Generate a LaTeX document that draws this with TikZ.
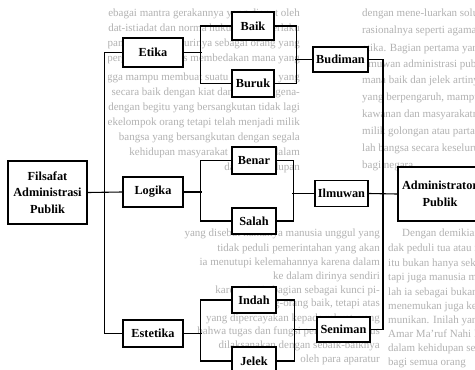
\documentclass[tikz,border=0pt]{standalone}
\usepackage{fontspec}
\setmainfont{Liberation Serif}
\begin{document}
\begin{tikzpicture}[x=1pt,y=-1pt,
  box/.style={draw, fill=white, line width=1.2pt, inner sep=0pt,
    font=\bfseries\fontsize{12.3}{16.5}\selectfont, align=center},
  link/.style={line width=1.1pt},
  bgtext/.style={text=black!30, font=\fontsize{11}{13}\selectfont, inner sep=0pt}]
\useasboundingbox (0,0) rectangle (475,370);
\fill[white] (0,0) rectangle (475,370);

% page text lying under the chart
\begin{scope}
\clip (108,0) rectangle (300,178);
\foreach \yy/\tt [count=\i] in {
  16.5/{sebagai mantra gerakannya yang dianut oleh},
  31.5/{dianut dalam adat-istiadat dan norma hukum yang berlaku},
  46.5/{kehidupan menuntut nalurinya sebagai orang yang},
  61.5/{dalam pergaulan ia harus membedakan mana yang},
  80.5/{sehingga mampu membuat suatu keputusan yang},
  95.5/{secara baik dengan kiat dan seni mengena-},
  110.5/{rakat, dengan begitu yang bersangkutan tidak lagi},
  125.5/{milik sekelompok orang tetapi telah menjadi milik},
  140.5/{bangsa yang bersangkutan dengan segala},
  155.5/{kehidupan masyarakat yang ada dalam},
  170.5/{dalam kehidupan}}
  \node[bgtext, anchor=base east] (bga\i) at (300,\yy) {\tt};
\end{scope}
\begin{scope}
\clip (360,0) rectangle (475,172);
\foreach \yy/\tt [count=\i] in {
  16.5/{dengan mene-luarkan solusi yang tepat},
  33.5/{rasionalnya seperti agama, hukum, dan},
  51.5/{etika. Bagian pertama yang harus},
  67.5/{ilmuwan administrasi publik, maka},
  83.5/{mana baik dan jelek artinya, dengan},
  100.5/{yang berpengaruh, mampu menyelesaikan},
  117.5/{kawanan dan masyarakatnya, dengan},
  134.5/{milik golongan atau partai sekelompok},
  151.5/{lah bangsa secara keseluruhan dan},
  168.5/{bagi negara.}}
  \node[bgtext, anchor=base west] (bgb\i) at (362,\yy) {\tt};
\end{scope}
\begin{scope}
\clip (108,210) rectangle (382,370);
\foreach \yy/\tt [count=\i] in {
  236.5/{yang disebut namanya manusia unggul yang},
  251.5/{tidak peduli pemerintahan yang akan},
  265.5/{ia menutupi kelemahannya karena dalam},
  279.5/{ke dalam dirinya sendiri},
  293.5/{karena itu ia bagian sebagai kunci pi-},
  306.5/{hak orang-orang baik, tetapi atas},
  321.5/{yang dipercayakan kepada rakyat, yang},
  334.5/{bahwa tugas dan fungsi pemerintah harus},
  348.5/{dilaksanakan dengan sebaik-baiknya},
  362.5/{oleh para aparatur}}
  \node[bgtext, anchor=base east] (bgc\i) at (380,\yy) {\tt};
\end{scope}
\begin{scope}
\clip (385,222) rectangle (475,370);
\foreach \yy/\xx/\tt [count=\i] in {
  236.5/402/{Dengan demikian akan lebih},
  251.5/388/{dak peduli tua atau muda, yang},
  266.5/388/{itu bukan hanya sekadar menegakkan},
  280.5/388/{tapi juga manusia manusia.},
  295.5/388/{lah ia sebagai bukan saja},
  309.5/388/{menemukan juga kebenaran},
  323.5/388/{munikan. Inilah yang dimaksud},
  337.5/388/{Amar Ma'ruf Nahi Munkar.},
  351.5/388/{dalam kehidupan sehari-hari},
  365.5/388/{bagi semua orang}}
  \node[bgtext, anchor=base west] (bgd\i) at (\xx,\yy) {\tt};
\end{scope}

% source box
\node[box, minimum width=79pt, minimum height=63pt] (fap) at (47.5,192.5)
  {Filsafat\\Administrasi\\Publik};

% first level
\node[box, minimum width=60pt, minimum height=29pt] (etika) at (153,52.5) {Etika};
\node[box, minimum width=60pt, minimum height=30pt] (logika) at (153,192) {Logika};
\node[box, minimum width=60pt, minimum height=27pt] (estetika) at (153,333.5) {Estetika};

% second level
\node[box, minimum width=42pt, minimum height=28pt] (baik) at (253,26) {Baik};
\node[box, minimum width=42pt, minimum height=27pt] (buruk) at (253,83.5) {Buruk};
\node[box, minimum width=44pt, minimum height=27pt] (benar) at (254,160.5) {Benar};
\node[box, minimum width=44pt, minimum height=26pt] (salah) at (254,221) {Salah};
\node[box, minimum width=44pt, minimum height=26pt] (indah) at (254,300) {Indah};
\node[box, minimum width=44pt, minimum height=28pt] (jelek) at (254,361) {Jelek};

% third level
\node[box, minimum width=55pt, minimum height=25pt] (budiman) at (340.5,59.5) {Budiman};
\node[box, minimum width=53pt, minimum height=26pt] (ilmuwan) at (341.5,193.5) {Ilmuwan};
\node[box, minimum width=53pt, minimum height=25pt] (seniman) at (343.5,329.5) {Seniman};

% result
\node[box, minimum width=84pt, minimum height=54pt] (adm) at (440,194)
  {Administrator\\Publik};

% connectors
\coordinate (rv) at (383,0);
\draw[link] (fap.east) -- (logika.west);
\draw[link] (etika.west) -- ++(-18,0) |- (estetika.west);

\draw[link] (etika.east) -- ++(18,0);
\draw[link] (baik.west) -- ++(-31,0) |- (buruk.west);
\draw[link] (logika.east) -- ++(18,0);
\draw[link] (benar.west) -- ++(-31,0) |- (salah.west);
\draw[link] (estetika.east) -- ++(18,0);
\draw[link] (indah.west) -- ++(-31,0) |- (jelek.west);

\draw[link] (baik.east) -- ++(22,0) |- (buruk.east);
\draw[link] (budiman.west) -- ++(-17,0);
\draw[link] (benar.east) -- ++(17,0) |- (salah.east);
\draw[link] (ilmuwan.west) -- ++(-22,0);
\draw[link] (indah.east) -- ++(18,0) |- (jelek.east);
\draw[link] (seniman.west) -- ++(-23,0);

\draw[link] (budiman.east) -- (budiman.east -| rv) -- (seniman.east -| rv) -- (seniman.east);
\draw[link] (ilmuwan.east) -- (adm.west);
\end{tikzpicture}
\end{document}
